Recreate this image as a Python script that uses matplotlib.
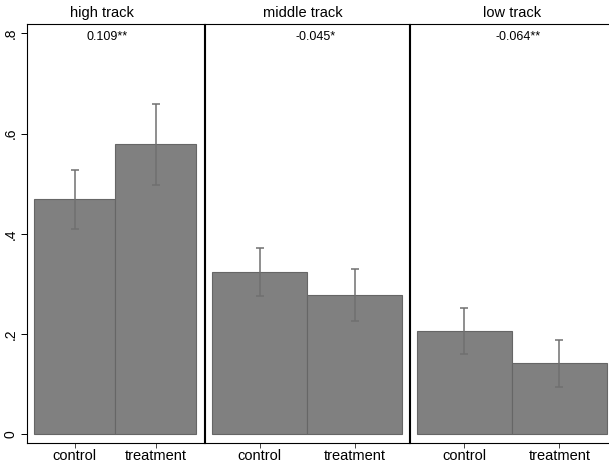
import numpy as np
import matplotlib
matplotlib.use('Agg')
import matplotlib.pyplot as plt

plt.rcParams['font.family'] = ['Liberation Sans', 'DejaVu Sans']

########################## data ###############################################
tracks = ['high track', 'middle track', 'low track']
groups = ['control', 'treatment']
means = [[0.469, 0.579],
         [0.323, 0.278],
         [0.206, 0.142]]
ci_low = [[0.410, 0.497],
          [0.275, 0.227],
          [0.160, 0.094]]
ci_high = [[0.527, 0.658],
           [0.371, 0.330],
           [0.252, 0.189]]
diff_labels = ['0.109**', '-0.045*', '-0.064**']
yticks = [0, 0.2, 0.4, 0.6, 0.8]
ytick_labels = ['0', '.2', '.4', '.6', '.8']

############################## layout (pixels) ################################
W, H = 609, 462
fig = plt.figure(figsize=(W / 100, H / 100), dpi=100)

# panel left/right edges, bar start / unit width, in pixels
panels = [(27, 204, 34, 81), (205, 409, 212, 95), (410, 614, 417, 95)]
title_x = [102, 303, 512]
note_x = [107.5, 316, 518]
top_px, bot_px = 24, 443
y0_px, per_unit = 434.3, 501.25

bar_col = '#808080'
edge_col = '#666666'
err_col = '#707070'

for i, (l, r, b0, u) in enumerate(panels):
    ax = fig.add_axes([l / W, 1 - bot_px / H, (r - l) / W, (bot_px - top_px) / H])
    x = np.array([1, 2])
    m = np.array(means[i])
    lo = m - np.array(ci_low[i])
    hi = np.array(ci_high[i]) - m
    ax.bar(x, m, width=1.0, color=bar_col, edgecolor=edge_col, linewidth=0.8, zorder=2)
    ax.errorbar(x, m, yerr=[lo, hi], fmt='none', ecolor=err_col, elinewidth=1.1,
                capsize=2.6, capthick=1.1, zorder=3)
    # x limits so that the bars sit where they do in the picture
    ax.set_xlim(0.5 - (b0 - l) / u, 0.5 + (r - b0) / u)
    ax.set_ylim(-(bot_px - y0_px) / per_unit, (y0_px - top_px) / per_unit)
    ax.set_xticks(x)
    ax.set_xticklabels(groups, fontsize=10.5)
    ax.tick_params(axis='x', length=3.5, width=0.7, color='#444444', pad=1)
    if i == 0:
        ax.set_yticks(yticks)
        ax.set_yticklabels(ytick_labels, rotation=90, va='center', fontsize=10)
        ax.tick_params(axis='y', length=4, width=0.7, pad=3)
    else:
        ax.set_yticks([])
    for s in ax.spines.values():
        s.set_linewidth(0.8)
        s.set_color('black')
    ax.text((note_x[i] - b0) / u + 0.5, (y0_px - 37) / per_unit, diff_labels[i],
            ha='center', va='center', fontsize=9)
    fig.text(title_x[i] / W, 1 - 13 / H, tracks[i], ha='center', va='center',
             fontsize=10.5)

fig.savefig('out.png', dpi=100, facecolor='white')
